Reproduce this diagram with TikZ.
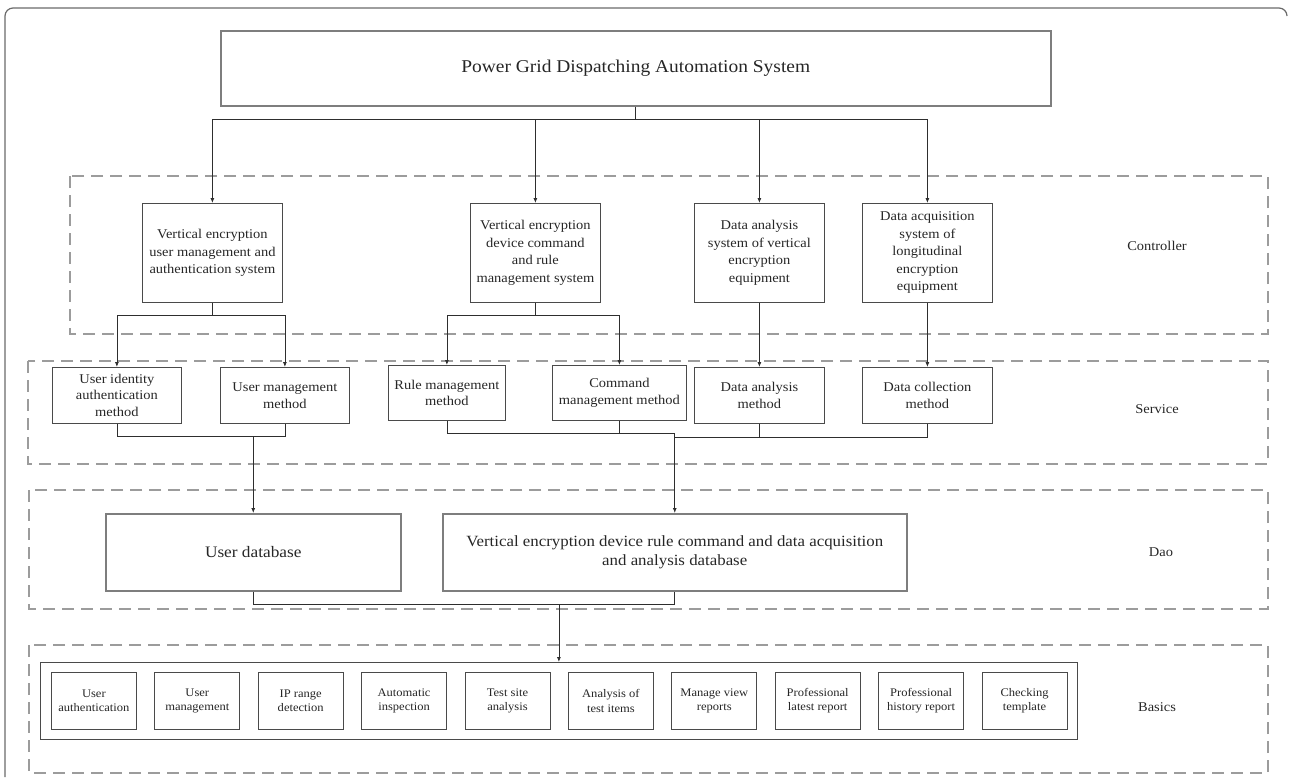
\documentclass[tikz,border=0pt]{standalone}
\usepackage{fontspec}
\setmainfont{Liberation Serif}[FakeStretch=1.08]
\usetikzlibrary{arrows.meta,calc}

\definecolor{boxc}{HTML}{4A4A4A}
\definecolor{bigc}{HTML}{7E7E7E}
\definecolor{dashc}{HTML}{9C9C9C}
\definecolor{linec}{HTML}{2E2E2E}
\definecolor{txtc}{HTML}{262626}
\definecolor{framec}{HTML}{6A6A6A}

\tikzset{
  unitbox/.style={draw=boxc, line width=0.8pt, inner sep=0pt, align=center,
    anchor=north west, text=txtc},
  ctrlbox/.style={unitbox, minimum height=99pt,
    font=\fontsize{13.4}{17.5}\selectfont},
  servbox/.style={unitbox, font=\fontsize{13.4}{16.8}\selectfont},
  bigbox/.style={draw=bigc, line width=1.5pt, inner sep=0pt, align=center,
    anchor=north west, text=txtc},
  basebox/.style={unitbox, minimum width=85pt, minimum height=57pt,
    font=\fontsize{11.6}{14.3}\selectfont},
  layer/.style={draw=dashc, line width=1.3pt, dash pattern=on 12pt off 7pt},
  layername/.style={text=txtc, font=\fontsize{13.4}{16}\selectfont},
  link/.style={draw=linec, line width=0.8pt},
  arr/.style={link, -{Latex[length=5pt,width=4pt]}}
}

\begin{document}
\begin{tikzpicture}[x=1pt, y=-1pt]
\useasboundingbox (0,0) rectangle (1289,777);

% outer frame
\draw[framec, line width=1.2pt, rounded corners=8pt]
  (5,777) -- (5,8) -- (1287,8) -- (1287,16);

% layer regions
\draw[layer] (70,176) rectangle (1268,334);
\draw[layer] (28,361) rectangle (1268,464);
\draw[layer] (29,490) rectangle (1268,609);
\draw[layer] (29,645) rectangle (1268,773);

\node[layername] (lctrl) at (1157,246) {Controller};
\node[layername] (lserv) at (1157,409) {Service};
\node[layername] (ldao)  at (1161,552) {Dao};
\node[layername] (lbase) at (1157,707) {Basics};

% top system
\node[bigbox, minimum width=830pt, minimum height=75pt,
  font=\fontsize{18}{22}\selectfont] (top) at (220,30)
  {Power Grid Dispatching Automation System};

% controller layer
\node[ctrlbox, minimum width=140pt] (c1) at (142,203)
  {Vertical encryption\\user management and\\authentication system};
\node[ctrlbox, minimum width=130pt] (c2) at (470,203)
  {Vertical encryption\\device command\\and rule\\management system};
\node[ctrlbox, minimum width=130pt] (c3) at (694,203)
  {Data analysis\\system of vertical\\encryption\\equipment};
\node[ctrlbox, minimum width=130pt] (c4) at (862,203)
  {Data acquisition\\system of\\longitudinal\\encryption\\equipment};

% service layer
\node[servbox, minimum width=129pt, minimum height=56pt] (s1) at (52,367)
  {User identity\\authentication\\method};
\node[servbox, minimum width=129pt, minimum height=56pt] (s2) at (220,367)
  {User management\\method};
\node[servbox, minimum width=117pt, minimum height=55pt] (s3) at (388,365)
  {Rule management\\method};
\node[servbox, minimum width=134pt, minimum height=55pt] (s4) at (552,365)
  {Command\\management method};
\node[servbox, minimum width=130pt, minimum height=56pt] (s5) at (694,367)
  {Data analysis\\method};
\node[servbox, minimum width=130pt, minimum height=56pt] (s6) at (862,367)
  {Data collection\\method};

% dao layer
\node[bigbox, minimum width=295pt, minimum height=77pt,
  font=\fontsize{16}{19}\selectfont] (d1) at (105,513) {User database};
\node[bigbox, minimum width=464pt, minimum height=77pt,
  font=\fontsize{15.6}{19}\selectfont] (d2) at (442,513)
  {Vertical encryption device rule command and data acquisition\\and analysis database};

% basics layer
\node[unitbox, minimum width=1037pt, minimum height=77pt] (bc) at (40,662) {};
\foreach \i/\t in {0/{User\\authentication},
                   1/{User\\management},
                   2/{IP range\\detection},
                   3/{Automatic\\inspection},
                   4/{Test site\\analysis},
                   5/{Analysis of\\test items},
                   6/{Manage view\\reports},
                   7/{Professional\\latest report},
                   8/{Professional\\history report},
                   9/{Checking\\template}}
  \node[basebox] (b\i) at ({51+\i*103.4},672) {\t};

% system -> controller
\coordinate (tj) at ($(top.south)+(0,13)$);
\draw[link] (top.south) -- (tj);
\draw[arr] (tj) -| (c1);
\draw[arr] (tj) -| (c2);
\draw[arr] (tj) -| (c3);
\draw[arr] (tj) -| (c4);

% controller -> service
\coordinate (cj1) at ($(c1.south)+(0,13)$);
\draw[link] (c1.south) -- (cj1);
\draw[arr] (cj1) -| (s1);
\draw[arr] (cj1) -| (s2);
\coordinate (cj2) at ($(c2.south)+(0,13)$);
\draw[link] (c2.south) -- (cj2);
\draw[arr] (cj2) -| (s3);
\draw[arr] (cj2) -| (s4);
\draw[arr] (c3) -- (s5);
\draw[arr] (c4) -- (s6);

% service -> dao
\coordinate (m1) at ($(s1.south)+(0,13)$);
\draw[link] (s1.south) -- (m1) -| (s2.south);
\draw[arr] (m1 -| d1.north) -- (d1.north);
\coordinate (m3) at ($(s3.south)+(0,13)$);
\draw[link] (s3.south) -- (m3) -- (m3 -| d2.north);
\draw[link] (s4.south) -- (s4.south |- m3);
\coordinate (m5) at ($(s5.south)+(0,14)$);
\draw[link] (s5.south) -- (m5);
\draw[link] (m5 -| d2.north) -- (m5 -| s6.south) -- (s6.south);
\draw[arr] (m3 -| d2.north) -- (d2.north);

% dao -> basics
\coordinate (m7) at ($(d1.south)+(0,13)$);
\draw[link] (d1.south) -- (m7) -| (d2.south);
\draw[arr] (m7 -| bc.north) -- (bc.north);
\end{tikzpicture}
\end{document}
